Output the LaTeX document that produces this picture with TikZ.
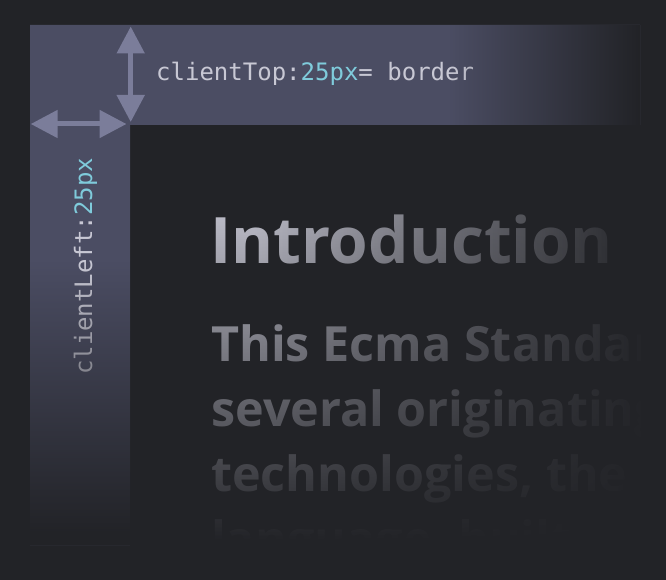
\documentclass[tikz,border=0pt]{standalone}
\usepackage{fontspec}
\usepackage{xcolor}
\usetikzlibrary{arrows.meta,positioning,fadings}
\newfontfamily\codefont{DejaVu Sans Mono}
\newfontfamily\headfont{Open Sans}
\definecolor{canvas}{HTML}{222327}
\definecolor{bordertint}{HTML}{4B4D63}
\definecolor{marker}{HTML}{7B7D9A}
\definecolor{labeltext}{HTML}{C8C8D4}
\definecolor{valuetext}{HTML}{7FCBDB}
\definecolor{copytext}{HTML}{C6C6D2}
% gradient kept in the middle half of the fading square
\begin{tikzfadingfrompicture}[name=fade in right]
  \fill[transparent!100] (-50bp,-50bp) rectangle (-25bp,50bp);
  \shade[left color=transparent!100,right color=transparent!0] (-25bp,-50bp) rectangle (25bp,50bp);
  \fill[transparent!0] (25bp,-50bp) rectangle (50bp,50bp);
\end{tikzfadingfrompicture}
\begin{tikzfadingfrompicture}[name=fade in down]
  \fill[transparent!100] (-50bp,25bp) rectangle (50bp,50bp);
  \shade[top color=transparent!100,bottom color=transparent!0] (-50bp,-25bp) rectangle (50bp,25bp);
  \fill[transparent!0] (-50bp,-50bp) rectangle (50bp,-25bp);
\end{tikzfadingfrompicture}

\begin{document}
\begin{tikzpicture}[
    x=1pt,y=-1pt,
    measure/.style={{Triangle[length=27pt,width=27pt]}-{Triangle[length=27pt,width=27pt]},line width=5pt,draw=marker},
    code/.style={font=\codefont\fontsize{24}{28}\selectfont,text=labeltext,inner sep=0pt,anchor=base west},
    heading/.style={font=\headfont\bfseries\fontsize{64}{72}\selectfont,text=copytext,inner sep=0pt,anchor=base west},
    para/.style={font=\headfont\bfseries\fontsize{48.5}{60}\selectfont,text=copytext,inner sep=0pt,anchor=base west},
    veil/.style={fill=canvas,path fading=#1}
]

\fill[canvas] (0,0) rectangle (666,580);
\useasboundingbox (0,0) rectangle (666,580);

% border of the element
\fill[bordertint] (30,25) -| (640,125) -| (130,545) -| cycle;

% page content behind the border
\begin{scope}
\clip (130,125) rectangle (640,545);
\node[heading] (intro) at (210,263) {Introduction};
\node[para] (line1) at (211,361) {This Ecma Standard is based on};
\node[para] (line2) at (211,426) {several originating};
\node[para] (line3) at (211,491) {technologies, the most well known};
\node[para] (line4) at (211,556) {language, built on};
\end{scope}

% labels
\node[code] (toplabel) at (156,81) {clientTop:\textcolor{valuetext}{25px}= border};
\node[code,rotate=90] (leftlabel) at (92,375) {clientLeft:\textcolor{valuetext}{25px}};

% fade out towards right and bottom
\fill[veil=fade in right] (450,25) rectangle (640,125);
\fill[veil=fade in down] (30,262) rectangle (130,535);
\fill[canvas] (30,535) rectangle (130,545);
\fill[veil=fade in right] (255,125) rectangle (650,560);
\fill[veil=fade in down] (130,190) rectangle (650,540);
\fill[canvas] (130,540) rectangle (650,560);

% measure arrows
\coordinate (ttip) at (130.7,26.5);
\coordinate (btip) at (130.7,122);
\coordinate (ltip) at (30.7,124);
\coordinate (rtip) at (126.5,124);
\draw[measure] (ttip) -- (btip);
\draw[measure] (ltip) -- (rtip);

\end{tikzpicture}
\end{document}
